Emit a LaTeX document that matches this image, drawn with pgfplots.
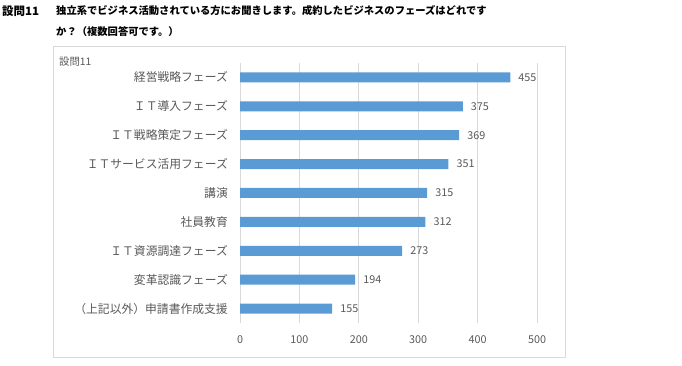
\documentclass[border=0pt]{standalone}
\usepackage{fontspec}
\setmainfont{Noto Sans CJK JP}
\usepackage{pgfplots}
\pgfplotsset{compat=1.18}
\definecolor{barblue}{HTML}{5B9BD5}
\definecolor{txtgray}{HTML}{595959}
\definecolor{gridgray}{HTML}{D9D9D9}
\begin{document}
\begin{tikzpicture}
\useasboundingbox (0pt,0pt) rectangle (682pt,366pt);
\draw[gridgray, line width=0.8pt] (53pt,9pt) rectangle (565pt,320pt);
\node[anchor=west, inner sep=0pt, font=\bfseries\fontsize{11.5}{13}\selectfont] at (2pt,355pt) {設問11};
\node[anchor=west, inner sep=0pt, font=\bfseries\fontsize{10.3}{12}\selectfont] at (56pt,355pt) {独立系でビジネス活動されている方にお聞きします。成約したビジネスのフェーズはどれです};
\node[anchor=west, inner sep=0pt, font=\bfseries\fontsize{10.3}{12}\selectfont] at (56pt,334pt) {か？（複数回答可です。）};
\node[anchor=west, inner sep=0pt, text=txtgray, font=\fontsize{10.3}{12}\selectfont] at (59pt,304pt) {設問11};
\begin{axis}[
  at={(240pt,43pt)}, anchor=south west,
  scale only axis, width=297pt, height=260pt,
  xbar, xmin=0, xmax=500, ymin=0.5, ymax=9.5,
  bar width=10pt,
  xtick={0,100,...,500},
  ytick={1,...,9},
  yticklabels={（上記以外）申請書作成支援, 変革認識フェーズ, ＩＴ資源調達フェーズ, 社員教育, 講演, ＩＴサービス活用フェーズ, ＩＴ戦略策定フェーズ, ＩＴ導入フェーズ, 経営戦略フェーズ},
  axis line style={draw=none},
  major tick length=0pt,
  xmajorgrids, grid style={gridgray, line width=0.8pt},
  /pgf/number format/assume math mode=true,
  yticklabel style={inner sep=0pt, xshift=-12pt, text=txtgray, font=\fontsize{11.8}{13}\selectfont},
  xticklabel style={inner sep=0pt, yshift=-12pt, text=txtgray, font=\fontsize{10.8}{12}\selectfont},
  nodes near coords,
  every node near coord/.append style={text=txtgray, font=\fontsize{10.8}{12}\selectfont, inner sep=0pt, xshift=8pt, anchor=west},
]
\addplot[fill=barblue, draw=none] coordinates {(155,1) (194,2) (273,3) (312,4) (315,5) (351,6) (369,7) (375,8) (455,9)};
\end{axis}
\end{tikzpicture}
\end{document}
